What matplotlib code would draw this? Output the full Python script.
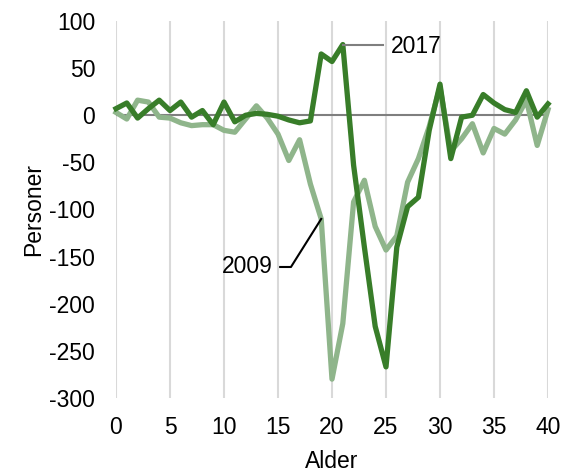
import matplotlib.pyplot as plt

plt.rcParams['font.family'] = ['Liberation Sans', 'DejaVu Sans']
plt.rcParams['axes.unicode_minus'] = False

# Alder 0-40
ages = list(range(0, 41))

# Nettoflytting etter alder
y2009 = [3, -4, 16, 14, -2, -3, -8, -11, -10, -10, -16, -18, -4, 10, -3, -20,
         -48, -26, -73, -110, -280, -221, -92, -69, -118, -143, -128, -71, -46, -12,
         30, -38, -25, -9, -40, -14, -20, -5, 16, -32, 6]
y2017 = [7, 13, -3, 7, 16, 5, 14, -2, 5, -10, 14, -7, 0, 2, 1, -1,
         -5, -8, -6, 65, 57, 75, -53, -140, -224, -267, -140, -97, -87, -16,
         33, -46, -2, 0, 22, 13, 6, 3, 26, -2, 12]

fs = 16.5

fig = plt.figure(figsize=(5.64, 4.72), dpi=100)
ax = fig.add_axes([116 / 564, 1 - 398 / 472, 432 / 564, 377 / 472])

for x in range(0, 41, 5):
    ax.axvline(x, color='#d9d9d9', lw=1.5, zorder=0)
ax.axhline(0, color='#7f7f7f', lw=1.5, zorder=1)

ax.plot(ages, y2009, color='#8fb58b', lw=3.8, zorder=2, clip_on=False)
ax.plot(ages, y2017, color='#387d29', lw=3.8, zorder=3, clip_on=False)

ax.set_xlim(0, 40)
ax.set_ylim(-300, 100)
ax.set_xticks(range(0, 41, 5))
ax.set_yticks(range(-300, 101, 50))
ax.tick_params(length=0, labelsize=fs)
ax.tick_params(axis='y', pad=15)
ax.tick_params(axis='x', pad=13)
for s in ax.spines.values():
    s.set_visible(False)

ax.set_xlabel('Alder', fontsize=fs, labelpad=8)
ax.set_ylabel('Personer', fontsize=fs, labelpad=3)

# Etiketter med ledelinjer
ax.plot([21, 24.7], [75, 75], color='#7f7f7f', lw=1.5, zorder=4)
ax.text(25.45, 73, '2017', fontsize=fs, va='center', ha='left')
ax.plot([15.2, 16.2, 19], [-161, -161, -110], color='black', lw=1.5, zorder=4)
ax.text(14.5, -161, '2009', fontsize=fs, va='center', ha='right')

fig.savefig('out.png', dpi=100)
